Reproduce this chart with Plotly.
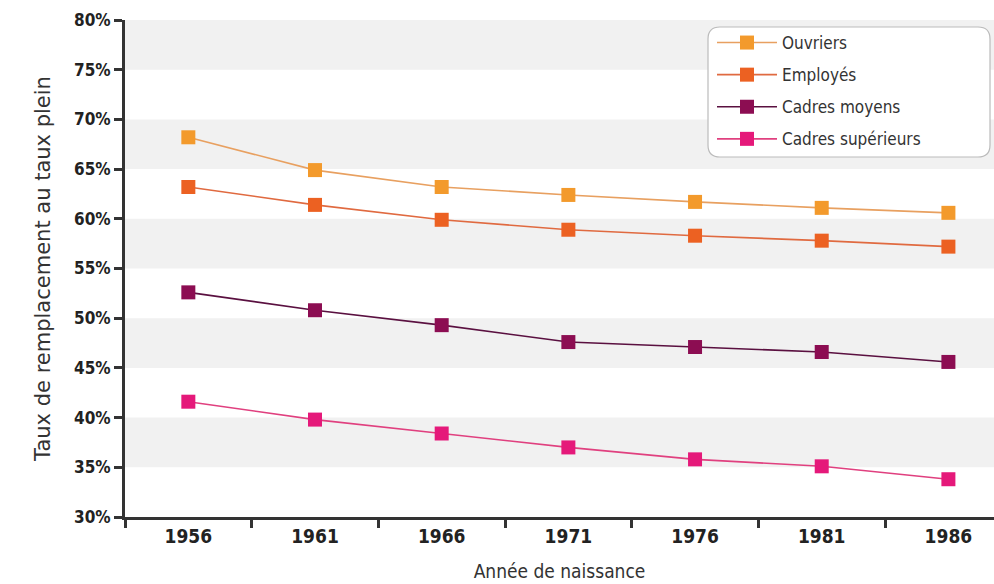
import plotly.graph_objects as go

# Birth cohorts and replacement rates (% of final wage) by occupational group
years = ["1956", "1961", "1966", "1971", "1976", "1981", "1986"]
ouvriers = [68.2, 64.9, 63.2, 62.4, 61.7, 61.1, 60.6]
employes = [63.2, 61.4, 59.9, 58.9, 58.3, 57.8, 57.2]
cadres_moyens = [52.6, 50.8, 49.3, 47.6, 47.1, 46.6, 45.6]
cadres_sup = [41.6, 39.8, 38.4, 37.0, 35.8, 35.1, 33.8]

series_names = ["Ouvriers", "Employés", "Cadres moyens", "Cadres supérieurs"]
series_values = [ouvriers, employes, cadres_moyens, cadres_sup]
marker_colors = ["#F39A2C", "#EC6122", "#8C0D52", "#E5197A"]
line_colors = ["#E8A060", "#E06A40", "#5A1040", "#E0407F"]

y_ticks = [30, 35, 40, 45, 50, 55, 60, 65, 70, 75, 80]
band_starts = [35, 45, 55, 65, 75]

FONT = "DejaVu Sans Condensed, Liberation Sans Narrow, sans-serif"

fig = go.Figure()
for name, vals, mc, lc in zip(series_names, series_values, marker_colors, line_colors):
    fig.add_trace(go.Scatter(
        x=years, y=vals, name=name, mode="lines+markers", legendgroup=name,
        line=dict(color=lc, width=1.6),
        marker=dict(symbol="square", size=14, color=mc),
    ))

# Alternating grey background bands
shapes = [
    dict(type="rect", xref="paper", yref="y", x0=0, x1=1, y0=b, y1=b + 5,
         fillcolor="#F1F1F1", line=dict(width=0), layer="below")
    for b in band_starts
]

# Rounded legend frame
W, H = 869.0, 497.0
lx0, lx1 = (708 - 125) / W, (990 - 125) / W
ly0, ly1 = (517 - 157) / H, (517 - 27) / H
rx, ry = 12 / W, 12 / H
path = (f"M {lx0 + rx},{ly1} L {lx1 - rx},{ly1} Q {lx1},{ly1} {lx1},{ly1 - ry} "
        f"L {lx1},{ly0 + ry} Q {lx1},{ly0} {lx1 - rx},{ly0} "
        f"L {lx0 + rx},{ly0} Q {lx0},{ly0} {lx0},{ly0 + ry} "
        f"L {lx0},{ly1 - ry} Q {lx0},{ly1} {lx0 + rx},{ly1} Z")
shapes.append(dict(type="path", xref="paper", yref="paper", path=path,
                   fillcolor="white", line=dict(color="#BBBBBB", width=1.2),
                   layer="above"))

fig.update_layout(
    width=994, height=584,
    margin=dict(l=125, r=0, t=20, b=67),
    paper_bgcolor="white", plot_bgcolor="white",
    font=dict(family=FONT, color="#222"),
    shapes=shapes,
    showlegend=True,
    legend=dict(
        x=(712 - 125) / W, y=(517 - 25) / H, xanchor="left", yanchor="top",
        bgcolor="rgba(0,0,0,0)", borderwidth=0,
        font=dict(size=17, family=FONT, color="#333"),
        itemwidth=60, tracegroupgap=7,
    ),
    xaxis=dict(
        type="category", range=[-0.5, 6.36], tickson="boundaries",
        ticks="outside", ticklen=8, tickwidth=2.5, tickcolor="#333",
        showline=True, linecolor="#333", linewidth=3, showgrid=False,
        tickfont=dict(size=19, family=FONT, color="#222", weight="bold"),
        title=dict(text="Année de naissance", font=dict(size=19, family=FONT, color="#333"),
                   standoff=19),
    ),
    yaxis=dict(
        range=[30, 80], tickvals=y_ticks, ticktext=[f"{v}%" for v in y_ticks],
        ticks="outside", ticklen=8, tickwidth=2.5, tickcolor="#333",
        showline=True, linecolor="#333", linewidth=3, showgrid=False, zeroline=False,
        tickfont=dict(size=17, family=FONT, color="#222", weight="bold"),
        title=dict(text="Taux de remplacement au taux plein",
                   font=dict(size=21, family="DejaVu Sans, sans-serif", color="#333"),
                   standoff=18),
    ),
)

fig.write_html("out.html")
